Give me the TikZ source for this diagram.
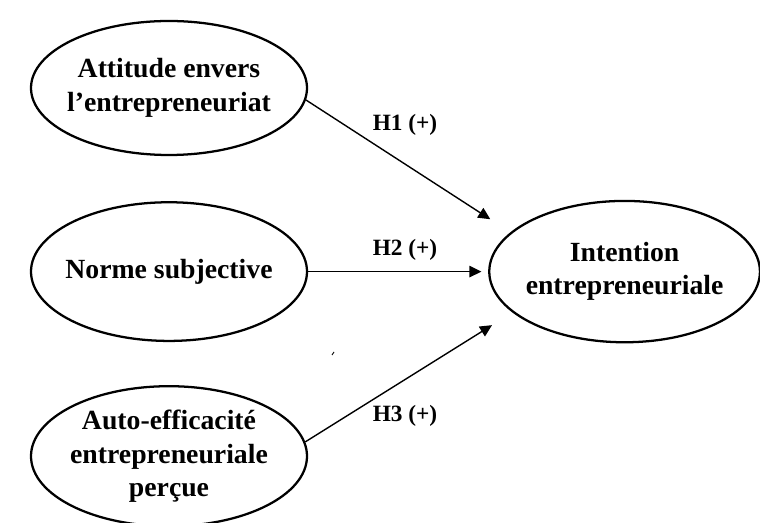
\documentclass[tikz,border=0pt]{standalone}
\usepackage{fontspec}
\setmainfont{Liberation Serif}
\usetikzlibrary{arrows.meta,positioning,shapes.geometric}
\tikzset{
    %Define standard arrow tip
    >={Triangle[length=9pt,width=8.5pt]},
    %Define style for ellipses
    bulle/.style={
           ellipse,
           draw=black, line width=1.7pt,
           inner sep=-30pt,
           minimum width=207pt,
           align=center,
           font=\fontsize{20.8}{25}\selectfont\bfseries},
    % Define arrow style
    fleche/.style={
           ->,
           line width=1.05pt},
    % Define style for labels
    etiq/.style={
           font=\fontsize{17.5}{20}\selectfont\bfseries}
}

\begin{document}
\begin{tikzpicture}[x=0.75pt,y=-0.75pt]
\useasboundingbox (0,0) rectangle (760,523);
 %nodes
\node[bulle, minimum height=100.5pt] (att) at (169,88) {Attitude envers\\l’entrepreneuriat};
\node[bulle, minimum height=104pt, below=33.75pt of att] (norme) {Norme subjective};
\node[bulle, minimum height=105pt, below=32.25pt of norme] (perc) {Auto-efficacité\\entrepreneuriale\\perçue};
\node[bulle, minimum width=203pt, minimum height=106pt, right=135pt of norme] (int) {Intention\\entrepreneuriale};
 %labels
\node[etiq] (h1) at (405,125) {H1 (+)};
\node[etiq] (h2) at (405,250) {H2 (+)};
\node[etiq] (h3) at (405,416) {H3 (+)};
 %arrows
\path[fleche]
    (att.-5) edge[shorten >=18pt] (int.161)
    (norme.east) edge[shorten >=5pt] (int.west)
    (perc.6) edge[shorten >=18pt] (int.-160);
\draw[line width=0.7pt] (332,355) -- (334,352);
\end{tikzpicture}
\end{document}
